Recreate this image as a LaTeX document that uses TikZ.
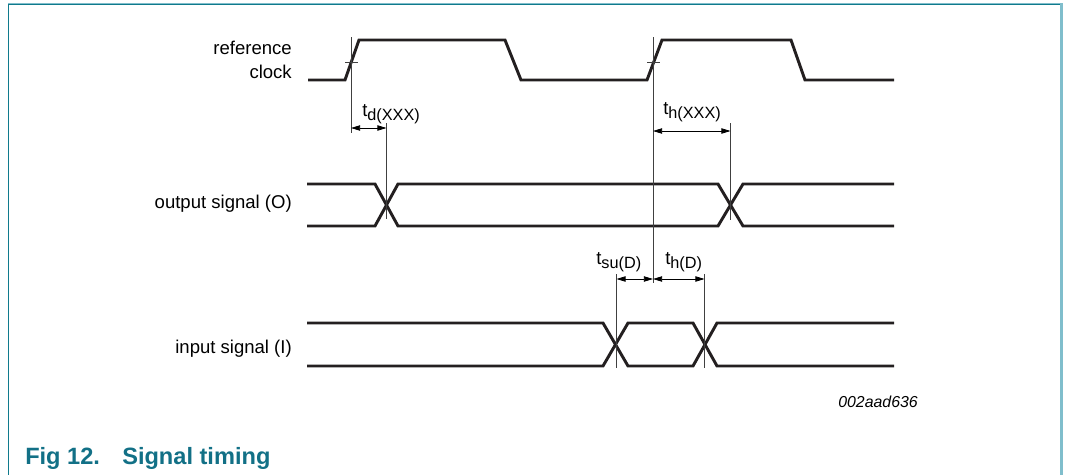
\documentclass[tikz,border=0pt]{standalone}
\usepackage{fontspec}
\setmainfont{Liberation Sans}
\usetikzlibrary{arrows.meta}

\definecolor{frameteal}{RGB}{16,122,140}
\definecolor{framelight}{RGB}{128,190,204}
\definecolor{captionteal}{RGB}{18,112,134}
\definecolor{wireblack}{RGB}{35,31,32}

\newcommand{\tlabel}[1]{t\raisebox{-0.5ex}{\fontsize{12.2pt}{12pt}\selectfont #1}}

\begin{document}
\begin{tikzpicture}[x=0.75pt,y=0.75pt,yscale=-1,xscale=1,
  wave/.style={line width=2.2pt, color=wireblack},
  guide/.style={line width=0.6pt, color=black!75},
  dimarrow/.style={{Triangle[length=6.8pt,width=4pt]}-{Triangle[length=6.8pt,width=4pt]}, line width=0.6pt},
  lbl/.style={font=\fontsize{13.9pt}{18pt}\selectfont, inner sep=0pt}]
\useasboundingbox (0,0) rectangle (1065,475);

%Frame
\draw [framelight, line width=0.9pt] (8,3.2) -- (1061,3.2);
\draw [frameteal, line width=0.9pt] (8.3,4.4) -- (1061,4.4);
\draw [frameteal, line width=0.9pt] (8.3,4) -- (8.3,475);
\draw [framelight, line width=1.6pt] (1061.5,3) -- (1061.5,475);

%Reference points
\coordinate (edgeA) at (351,62);
\coordinate (edgeB) at (653,62);
\coordinate (outX1) at (386.5,205);
\coordinate (outX2) at (730.5,205);
\coordinate (inX1) at (616,344.5);
\coordinate (inX2) at (705,344.5);

%Reference clock
\draw [wave] (308,80) -- (345,80) -- (359,40) -- (505,40) -- (521,80) -- (647,80) -- (662,40) -- (791,40) -- (805,80) -- (894,80) ;
\draw [guide] (345,62) -- (358,62) ;
\draw [guide] (647,62) -- (660,62) ;

%Output signal
\draw [wave] (307,184) -- (375,184) -- (398,226) -- (718,226) -- (743,184) -- (894,184) ;
\draw [wave] (307,226) -- (375,226) -- (398,184) -- (718,184) -- (743,226) -- (894,226) ;

%Input signal
\draw [wave] (307,323) -- (603,323) -- (628,366) -- (693,366) -- (717,323) -- (894,323) ;
\draw [wave] (307,366) -- (603,366) -- (628,323) -- (693,323) -- (717,366) -- (894,366) ;

%Guide lines
\draw [guide] (351,37) -- (351,133) ;
\draw [guide] (653,37) -- (653,283) ;
\draw [guide] (386.5,123) -- (386.5,219) ;
\draw [guide] (730.5,123) -- (730.5,220) ;
\draw [guide] (616.5,274) -- (616.5,368) ;
\draw [guide] (704.5,274) -- (704.5,368) ;

%Timing arrows
\draw [dimarrow] (edgeA |- 0,128) -- (outX1 |- 0,128) ;
\draw [dimarrow] (edgeB |- 0,131) -- (outX2 |- 0,131) ;
\draw [dimarrow] (616.5,279) -- (edgeB |- 0,279) ;
\draw [dimarrow] (edgeB |- 0,279) -- (704.5,279) ;

% Text Node
\node (tdxxx) [lbl, anchor=base west] at (362,116) {\tlabel{d(XXX)}};
% Text Node
\node (thxxx) [lbl, anchor=base west] at (663,114) {\tlabel{h(XXX)}};
% Text Node
\node (tsud) [lbl, anchor=base west] at (596,264) {\tlabel{su(D)}};
% Text Node
\node (thd) [lbl, anchor=base west] at (665,264) {\tlabel{h(D)}};

% Text Node
\node (refclk) [lbl, anchor=east, align=right] at (292,60) {reference\\clock};
% Text Node
\node (outsig) [lbl, anchor=east] at (292,204) {output signal (O)};
% Text Node
\node (insig) [lbl, anchor=east] at (292,349) {input signal (I)};

% Text Node
\node (figcode) [anchor=base east, inner sep=0pt, font=\itshape\fontsize{11.9pt}{14pt}\selectfont] at (918,407) {002aad636};
% Text Node
\node (fignum) [anchor=base west, inner sep=0pt, color=captionteal, font=\bfseries\fontsize{17.7pt}{20pt}\selectfont] at (25,464) {Fig 12.};
% Text Node
\node (figtitle) [anchor=base west, inner sep=0pt, color=captionteal, font=\bfseries\fontsize{17.7pt}{20pt}\selectfont] at (122,464) {Signal timing};

\end{tikzpicture}
\end{document}
